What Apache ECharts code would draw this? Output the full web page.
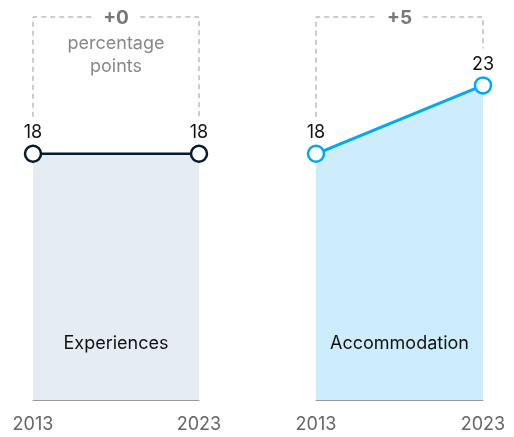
<!DOCTYPE html>
<html>
<head>
<meta charset="utf-8">
<script src="https://cdn.jsdelivr.net/npm/echarts@6/dist/echarts.min.js"></script>
<style>
  html, body { margin: 0; padding: 0; background: #fff; }
  #chart { width: 514px; height: 437px; }
</style>
</head>
<body>
<div id="chart"></div>
<script>
// Share of spending, 2013 vs 2023
const years = ['2013', '2023'];
const experiences = [18, 18];
const accommodation = [18, 23];
const panelNames = ['Experiences', 'Accommodation'];
const changeLabels = ['+0', '+5'];
const unitLabels = ['percentage\npoints', ''];

const panels = [
  { values: experiences, line: '#051c2c', fill: '#e6ecf4', left: 33, width: 166, lw: 2.5 },
  { values: accommodation, line: '#00a9f4', fill: '#cdedfd', left: 316, width: 167, lw: 3 }
];

const FONT = 'Inter, "Liberation Sans", Arial, sans-serif';
const SIZE = 18;

const chart = echarts.init(document.getElementById('chart'), null, { renderer: 'canvas' });

const grids = [], xAxes = [], yAxes = [], series = [];

panels.forEach((p, i) => {
  grids.push({ left: p.left, width: p.width, top: 17, bottom: 37 });
  xAxes.push({
    type: 'category', gridIndex: i, data: years, boundaryGap: false,
    axisLine: { lineStyle: { color: '#999', width: 1 } },
    axisTick: { show: false },
    axisLabel: { color: '#666', fontSize: SIZE, fontFamily: FONT, margin: 16 }
  });
  yAxes.push({
    type: 'value', gridIndex: i, min: 0, max: 28,
    show: false, splitLine: { show: false }
  });
  series.push({
    type: 'line', xAxisIndex: i, yAxisIndex: i, data: p.values,
    symbol: 'circle', symbolSize: 16, showAllSymbol: true,
    lineStyle: { color: p.line, width: p.lw },
    itemStyle: { color: '#fff', borderColor: p.line, borderWidth: 2.5 },
    areaStyle: { color: p.fill, opacity: 1 },
    label: {
      show: true, position: 'top', distance: 3,
      color: '#111', fontSize: SIZE, fontFamily: FONT
    },
    z: 3
  });
  // Bracket showing the change between the two years, plus panel name
  series.push({
    type: 'custom', xAxisIndex: i, yAxisIndex: i, silent: true, clip: false, z: 4,
    data: [[0, p.values[0], p.values[1]]],
    renderItem: function (params, api) {
      const a = api.coord([0, api.value(1)]);
      const b = api.coord([1, api.value(2)]);
      const base = api.coord([0, 0]);
      const top = params.coordSys.y;
      const dash = { stroke: '#999', lineWidth: 1, lineDash: [5, 4], fill: null };
      const cx = (a[0] + b[0]) / 2;
      const children = [
        { type: 'polyline', shape: { points: [[a[0], a[1] - 37], [a[0], top], [b[0], top], [b[0], b[1] - 37]] }, style: dash },
        { type: 'text', x: cx, y: top + 1,
          style: { text: changeLabels[i], fill: '#777', font: 'bold 19px ' + FONT,
                   align: 'center', verticalAlign: 'middle',
                   backgroundColor: '#fff', padding: [2, 11] } },
        { type: 'text', x: cx, y: base[1] - 56,
          style: { text: panelNames[i], fill: '#111', font: SIZE + 'px ' + FONT,
                   align: 'center', verticalAlign: 'middle' } }
      ];
      if (unitLabels[i]) {
        children.push({ type: 'text', x: cx, y: top + 38,
          style: { text: unitLabels[i], fill: '#888', font: SIZE + 'px ' + FONT,
                   align: 'center', verticalAlign: 'middle', lineHeight: 23 } });
      }
      return { type: 'group', children: children };
    }
  });
});

chart.setOption({
  animation: false,
  grid: grids,
  xAxis: xAxes,
  yAxis: yAxes,
  series: series
});
</script>
</body>
</html>
